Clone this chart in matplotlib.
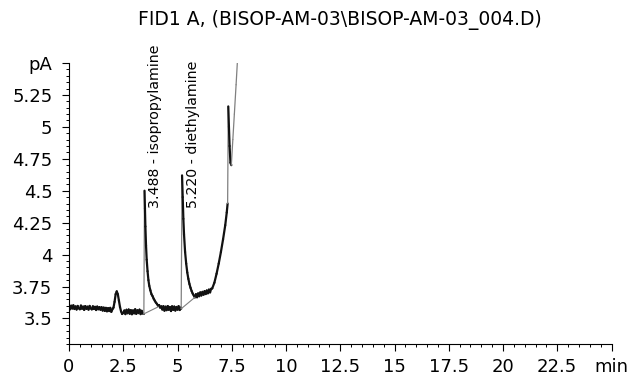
import numpy as np
import matplotlib
matplotlib.use("Agg")
import matplotlib.pyplot as plt
from matplotlib.collections import LineCollection
from matplotlib.ticker import MultipleLocator

# FID1 A trace (time in min, signal in pA)
time_min = [
    0.00, 0.05, 0.10, 0.15, 0.20, 0.25, 0.30, 0.35, 0.40, 0.45,
    0.50, 0.55, 0.60, 0.65, 0.70, 0.75, 0.80, 0.85, 0.90, 0.95,
    1.00, 1.05, 1.10, 1.15, 1.20, 1.25, 1.30, 1.35, 1.40, 1.45,
    1.50, 1.55, 1.60, 1.65, 1.70, 1.75, 1.80, 1.85, 1.90, 1.95,
    2.00, 2.05, 2.10, 2.15, 2.20, 2.25, 2.30, 2.35, 2.40, 2.45,
    2.50, 2.55, 2.60, 2.65, 2.70, 2.75, 2.80, 2.85, 2.90, 2.95,
    3.00, 3.05, 3.10, 3.15, 3.20, 3.25, 3.30, 3.35, 3.40, 3.45,
    3.48, 3.50, 3.52, 3.55, 3.58, 3.62, 3.66, 3.70, 3.75, 3.80,
    3.85, 3.90, 3.95, 4.00, 4.05, 4.10, 4.15, 4.20, 4.25, 4.30,
    4.35, 4.40, 4.45, 4.50, 4.55, 4.60, 4.65, 4.70, 4.75, 4.80,
    4.85, 4.90, 4.95, 5.00, 5.05, 5.10, 5.15, 5.17, 5.21, 5.24,
    5.27, 5.30, 5.35, 5.40, 5.45, 5.50, 5.55, 5.60, 5.65, 5.70,
    5.75, 5.80, 5.85, 5.90, 5.95, 6.00, 6.05, 6.10, 6.15, 6.20,
    6.25, 6.30, 6.35, 6.40, 6.45, 6.50, 6.55, 6.60, 6.70, 6.80,
    6.90, 7.00, 7.10, 7.20, 7.27, 7.31, 7.34, 7.37, 7.40, 7.44,
    7.48, 7.55, 7.62, 7.70, 7.76,
]
signal_pa = [
    3.595, 3.572, 3.600, 3.578, 3.603, 3.574, 3.594, 3.570, 3.598, 3.580,
    3.572, 3.601, 3.576, 3.593, 3.567, 3.597, 3.575, 3.592, 3.569, 3.598,
    3.580, 3.571, 3.595, 3.574, 3.591, 3.566, 3.593, 3.572, 3.589, 3.568,
    3.588, 3.562, 3.585, 3.559, 3.583, 3.556, 3.581, 3.558, 3.583, 3.552,
    3.572, 3.585, 3.630, 3.690, 3.712, 3.690, 3.640, 3.590, 3.555, 3.535,
    3.545, 3.562, 3.534, 3.568, 3.541, 3.570, 3.537, 3.565, 3.533, 3.563,
    3.540, 3.572, 3.536, 3.564, 3.542, 3.569, 3.534, 3.560, 3.539, 3.535,
    4.500, 4.360, 4.220, 4.070, 3.960, 3.870, 3.800, 3.755, 3.720, 3.690,
    3.675, 3.655, 3.640, 3.625, 3.615, 3.600, 3.605, 3.585, 3.595, 3.570,
    3.596, 3.561, 3.592, 3.565, 3.597, 3.568, 3.590, 3.558, 3.595, 3.567,
    3.593, 3.562, 3.590, 3.569, 3.596, 3.566, 3.585, 3.576, 4.620, 4.450,
    4.280, 4.160, 4.020, 3.930, 3.860, 3.810, 3.770, 3.740, 3.715, 3.695,
    3.680, 3.665, 3.690, 3.666, 3.696, 3.674, 3.704, 3.680, 3.708, 3.686,
    3.714, 3.691, 3.719, 3.697, 3.726, 3.704, 3.732, 3.735, 3.780, 3.850,
    3.930, 4.020, 4.120, 4.230, 4.330, 4.400, 5.160, 5.000, 4.850, 4.720,
    4.700, 4.900, 5.100, 5.330, 5.510,
]

# integration baselines drawn under the two named peaks
base1_t = [3.44, 4.10]
base1_v = [3.535, 3.590]
base2_t = [5.17, 5.80]
base2_v = [3.576, 3.665]

peak_times = [3.488, 5.220]
peak_names = ["isopropylamine", "diethylamine"]

x_ticks = [0, 2.5, 5, 7.5, 10, 12.5, 15, 17.5, 20, 22.5, 25]
x_labels = ["0", "2.5", "5", "7.5", "10", "12.5", "15", "17.5", "20", "22.5", "min"]
y_ticks = [3.5, 3.75, 4, 4.25, 4.5, 4.75, 5, 5.25, 5.5]
y_labels = ["3.5", "3.75", "4", "4.25", "4.5", "4.75", "5", "5.25", "pA"]

plt.rcParams['font.family'] = ['DejaVu Sans']

fig = plt.figure(figsize=(6.33, 3.79), dpi=100)
ax = fig.add_axes([69/633, 1-344/379, (611.5-69)/633, (344-63)/379])

t = np.array(time_min)
v = np.array(signal_pa)
pts = np.column_stack([t, v])
segs = np.stack([pts[:-1], pts[1:]], axis=1)
slope = np.diff(v)/np.diff(t)
steep = slope > 2.0
colors = ["#808080" if s else "#111111" for s in steep]
widths = [0.9 if s else 1.6 for s in steep]
lc = LineCollection(segs, colors=colors, linewidths=widths, capstyle='round', joinstyle='round')
ax.add_collection(lc)

ax.plot(base1_t, base1_v, color="#808080", lw=0.8)
ax.plot(base2_t, base2_v, color="#808080", lw=0.8)

label_x = [3.95, 5.70]
for pt, name, lx in zip(peak_times, peak_names, label_x):
    ax.text(lx, 4.363, f"{pt:.3f} - {name}", rotation=90, ha='center', va='bottom',
            fontsize=10.2, color='black')

ax.set_xlim(0, 25)
ax.set_ylim(3.3, 5.5)
ax.set_xticks(x_ticks)
ax.set_xticklabels(x_labels)
ax.set_yticks(y_ticks)
ax.set_yticklabels(y_labels)
ax.xaxis.set_minor_locator(MultipleLocator(0.5))
ax.yaxis.set_minor_locator(MultipleLocator(0.05))

for side in ['top', 'right']:
    ax.spines[side].set_visible(False)
for side in ['left', 'bottom']:
    ax.spines[side].set_linewidth(0.8)

ax.tick_params(which='major', length=5, width=0.8, labelsize=13)
ax.tick_params(which='minor', length=2.5, width=0.7)
ax.tick_params(axis='y', which='major', pad=7)
ax.tick_params(axis='x', which='major', pad=5)

fig.text(340/633, 1-20/379, "FID1 A, (BISOP-AM-03\\BISOP-AM-03_004.D)",
         ha='center', va='center', fontsize=13.5)

fig.savefig("out.png", dpi=100)
